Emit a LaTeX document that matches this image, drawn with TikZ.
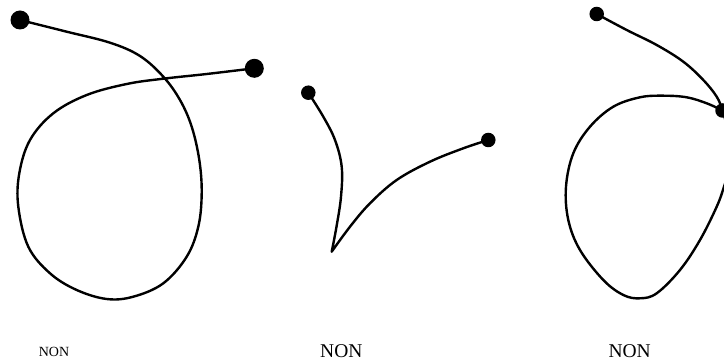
\documentclass[tikz,border=0pt]{standalone}
\usepackage{fontspec}
\setmainfont{Liberation Serif}
\begin{document}
\begin{tikzpicture}[x=1pt,y=-1pt,
  curve/.style={line width=2.4pt,line cap=round,line join=round},
  bigdot/.style={circle,fill=black,inner sep=0pt,minimum size=19pt},
  smalldot/.style={circle,fill=black,inner sep=0pt,minimum size=14.5pt},
  smalllabel/.style={anchor=base,inner sep=0pt,font=\fontsize{14}{16}\selectfont},
  biglabel/.style={anchor=base,inner sep=0pt,font=\fontsize{19.5}{22}\selectfont}]
\clip (0,0) rectangle (724,363);
\fill[white] (0,0) rectangle (724,363);
% curve 1: loop
\coordinate (a0) at (20,20);
\coordinate (a3) at (254.3,68.3);
\draw[curve] plot[smooth,tension=0.6] coordinates {(a0) (66.7,31.7) (110,42.7) (140,56) (163.3,76.7) (180,100) (191.7,126.7) (199.3,160) (201.7,193.3) (198.3,226.7) (186.7,256.7) (163.3,283.3) (133.3,296.7) (106.7,299) (76.7,290) (50,273.3) (28.3,246.7) (18.3,206.7) (19.3,173.3) (30,140) (53.3,113.3) (86.7,95) (126.7,84) (163.3,78.7) (206.7,74) (a3)};
\node[bigdot] (d1s) at (a0) {};
\node[bigdot] (d1e) at (a3) {};
% curve 2: cusp
\coordinate (b0) at (308.3,92.7);
\coordinate (bc) at (331.7,251.7);
\coordinate (b3) at (488.3,140);
\draw[curve] plot[smooth,tension=0.6] coordinates {(b0) (323.3,116.7) (335,140) (341.7,166.7) (341,196.7) (336.5,226.7) (bc)}
  plot[smooth,tension=0.6] coordinates {(bc) (350,226.7) (370,203.3) (396.7,180) (430,161.7) (463.3,148.3) (b3)};
\node[smalldot] (d2s) at (b0) {};
\node[smalldot] (d2e) at (b3) {};
% curve 3: end on the curve
\coordinate (c0) at (596.7,14);
\coordinate (c3) at (722.5,110.5);
\draw[curve] plot[smooth,tension=0.6] coordinates {(c0) (626.7,30) (656.7,45) (683.3,61.7) (703.3,80) (716.7,96.7) (c3) (727.5,129) (730.5,150) (728.5,170) (724,186.7) (716.7,206.7) (700,240) (680,270) (656.7,293.3) (640,298.3) (623.3,295) (603.3,280) (580,250) (568.3,220) (566,186.7) (573.3,153.3) (590,126.7) (613.3,106.7) (640,97.3) (663.3,95.7) (686.7,97.3) (706.7,103.3) (c3)};
\node[smalldot] (d3s) at (c0) {};
\node[smalldot] (d3e) at (c3) {};
% labels
\node[smalllabel] (l1) at (54,356.7) {NON};
\node[biglabel] (l2) at (341.3,357.3) {NON};
\node[biglabel] (l3) at (629.7,357.3) {NON};
\end{tikzpicture}
\end{document}
